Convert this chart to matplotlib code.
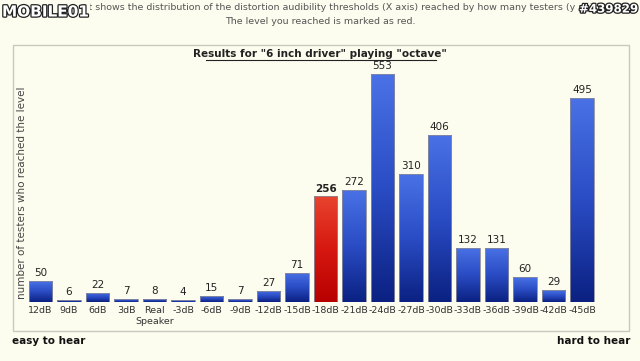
import matplotlib
matplotlib.use("Agg")
import matplotlib.pyplot as plt
import matplotlib.patheffects as pe
import numpy as np
from matplotlib.colors import LinearSegmentedColormap
from matplotlib.patches import Rectangle
from matplotlib.lines import Line2D

categories = ["12dB", "9dB", "6dB", "3dB", "Real\nSpeaker", "-3dB", "-6dB", "-9dB",
              "-12dB", "-15dB", "-18dB", "-21dB", "-24dB", "-27dB", "-30dB", "-33dB",
              "-36dB", "-39dB", "-42dB", "-45dB"]
values = [50, 6, 22, 7, 8, 4, 15, 7, 27, 71, 256, 272, 553, 310, 406, 132, 131, 60, 29, 495]
highlight = "-18dB"

title = 'Results for "6 inch driver" playing "octave"'
header1 = "This chart shows the distribution of the distortion audibility thresholds (X axis) reached by how many testers (y axis)."
header2 = "The level you reached is marked as red."
ylabel = "number of testers who reached the level"

bg = "#fdfdef"
W, H = 640, 361
fig = plt.figure(figsize=(W / 100, H / 100), dpi=100, facecolor=bg)

def fx(px):
    return px / W

def fy(py):
    return 1 - py / H

# frame box
fl, ft, fr, fb = 13, 45, 629, 331
fig.add_artist(Rectangle((fx(fl), fy(fb)), fx(fr - fl), fy(ft) - fy(fb),
                         transform=fig.transFigure, fill=False, edgecolor="#c8c8c0", lw=1))

# axes: baseline at y=302
base = 302
ax = fig.add_axes([fx(fl), fy(base), fx(fr - fl), fy(ft) - fy(base)])
ax.set_facecolor("none")
for s in ax.spines.values():
    s.set_visible(False)

x = np.arange(len(categories))
step = 28.5
c0 = 40.5
ax.set_xlim(-(c0 - fl) / step, (len(categories) - 1) + (fr - (c0 + step * (len(categories) - 1))) / step)
ax.set_ylim(0, 553 * (base - ft) / (base - 74))

bars = ax.bar(x, values, width=0.84, color="none", edgecolor="#8a8a9a", linewidth=0.6, zorder=3)

blue = LinearSegmentedColormap.from_list("b", ["#0b2182", "#2a4cc4", "#4a72e6"])
red = LinearSegmentedColormap.from_list("r", ["#b80000", "#d61810", "#e8442e"])
grad = np.linspace(0, 1, 256).reshape(-1, 1)
for b, cat, v in zip(bars, categories, values):
    cm = red if cat == highlight else blue
    x0, w, h = b.get_x(), b.get_width(), b.get_height()
    im = ax.imshow(grad, cmap=cm, origin="lower", aspect="auto",
                   extent=[x0, x0 + w, 0, h], zorder=2)
    im.set_clip_path(b)
    ax.text(b.get_x() + w / 2, h + 7, str(v), ha="center", va="bottom",
            fontsize=7.5, color="#222222",
            fontweight="bold" if cat == highlight else "normal")

ax.set_xticks(x)
ax.set_xticklabels(categories, fontsize=6.8, color="#333333", linespacing=1.3)
ax.tick_params(axis="x", length=0, pad=3)
ax.set_yticks([])

fig.text(fx(22), fy(193), ylabel, rotation=90, ha="center", va="center",
         fontsize=7.5, color="#444444")

fig.text(0.5, fy(54), title, ha="center", va="center", fontsize=7.5,
         fontweight="bold", color="#222222")
fig.add_artist(Line2D([fx(206), fx(436)], [fy(60), fy(60)], transform=fig.transFigure,
                      color="#222222", lw=0.8))

fig.text(fx(325), fy(8), header1, ha="center", va="center", fontsize=6.8, color="#555555")
fig.text(0.5, fy(22), header2, ha="center", va="center", fontsize=6.8, color="#555555")

# watermark logo and id
fig.text(fx(2), fy(12), "MOBILE01", ha="left", va="center", fontsize=11, fontweight="bold",
         color="white",
         bbox=dict(facecolor=bg, edgecolor="none", pad=1),
         path_effects=[pe.withStroke(linewidth=1.8, foreground="#222222")])
fig.text(fx(638), fy(9), "#439829", ha="right", va="center", fontsize=8.5, fontweight="bold",
         color="white",
         path_effects=[pe.withStroke(linewidth=1.8, foreground="#222222")])

fig.text(fx(12), fy(341), "easy to hear", ha="left", va="center", fontsize=7.5,
         fontweight="bold", color="#111111")
fig.text(fx(630), fy(341), "hard to hear", ha="right", va="center", fontsize=7.5,
         fontweight="bold", color="#111111")

fig.savefig("out.png", dpi=100, facecolor=bg)
